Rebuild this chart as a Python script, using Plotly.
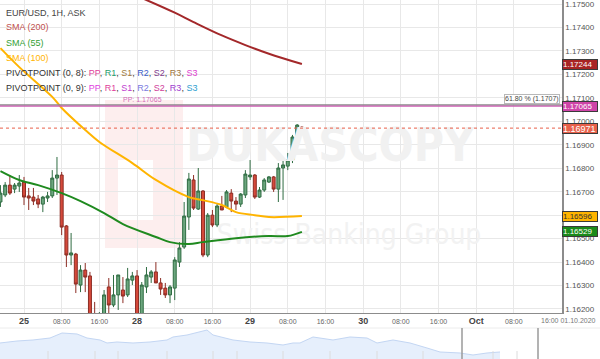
import plotly.graph_objects as go

# ---------------- data ----------------
# x = trading hours since 25 Sep 2020 00:00 (weekend removed)
hours = list(range(-5, 60))
opens = [1.16656, 1.16686, 1.16728, 1.16711, 1.16724, 1.16741, 1.16682, 1.16677, 1.16669, 1.16647,
         1.16673, 1.16682, 1.16758, 1.16771, 1.16554, 1.16430, 1.16434, 1.16302, 1.16366, 1.16341,
         1.16144, 1.16132, 1.16170, 1.16294, 1.16217, 1.16260, 1.16281, 1.16260, 1.16323, 1.16341,
         1.16153, 1.16294, 1.16336, 1.16358, 1.16311, 1.16289, 1.16260, 1.16289, 1.16400, 1.16464,
         1.16592, 1.16750, 1.16626, 1.16703, 1.16430, 1.16600, 1.16558, 1.16639, 1.16635, 1.16694,
         1.16660, 1.16647, 1.16686, 1.16763, 1.16771, 1.16677, 1.16707, 1.16741, 1.16763, 1.16711,
         1.16801, 1.16809, 1.16835, 1.16933, 1.16975]
highs = [1.16728, 1.16741, 1.16771, 1.16737, 1.16771, 1.16763, 1.16716, 1.16716, 1.16686, 1.16682,
         1.16699, 1.16792, 1.16848, 1.16784, 1.16558, 1.16524, 1.16439, 1.16387, 1.16396, 1.16358,
         1.16230, 1.16187, 1.16281, 1.16332, 1.16345, 1.16345, 1.16336, 1.16375, 1.16358, 1.16366,
         1.16315, 1.16379, 1.16366, 1.16400, 1.16332, 1.16311, 1.16302, 1.16421, 1.16485, 1.16656,
         1.16780, 1.16771, 1.16801, 1.16707, 1.16609, 1.16622, 1.16652, 1.16682, 1.16707, 1.16711,
         1.16677, 1.16694, 1.16792, 1.16835, 1.16775, 1.16720, 1.16758, 1.16767, 1.16767, 1.16822,
         1.16835, 1.16865, 1.16942, 1.16988, 1.16978]
lows = [1.16635, 1.16677, 1.16686, 1.16694, 1.16699, 1.16643, 1.16622, 1.16643, 1.16630, 1.16613,
        1.16656, 1.16673, 1.16686, 1.16515, 1.16379, 1.16387, 1.16268, 1.16272, 1.16272, 1.16097,
        1.16046, 1.16089, 1.16153, 1.16170, 1.16208, 1.16196, 1.16225, 1.16251, 1.16302, 1.16110,
        1.16132, 1.16268, 1.16311, 1.16311, 1.16260, 1.16247, 1.16225, 1.16238, 1.16379, 1.16456,
        1.16537, 1.16622, 1.16622, 1.16421, 1.16421, 1.16549, 1.16549, 1.16622, 1.16630, 1.16613,
        1.16622, 1.16635, 1.16673, 1.16750, 1.16669, 1.16673, 1.16699, 1.16737, 1.16699, 1.16656,
        1.16665, 1.16792, 1.16822, 1.16929, 1.16960]
closes = [1.16694, 1.16728, 1.16694, 1.16728, 1.16737, 1.16677, 1.16673, 1.16660, 1.16647, 1.16677,
          1.16682, 1.16758, 1.16771, 1.16549, 1.16430, 1.16439, 1.16306, 1.16366, 1.16336, 1.16132,
          1.16076, 1.16170, 1.16260, 1.16217, 1.16260, 1.16345, 1.16255, 1.16328, 1.16341, 1.16144,
          1.16302, 1.16345, 1.16358, 1.16311, 1.16285, 1.16260, 1.16294, 1.16409, 1.16460, 1.16596,
          1.16754, 1.16630, 1.16703, 1.16430, 1.16600, 1.16558, 1.16639, 1.16622, 1.16699, 1.16660,
          1.16647, 1.16690, 1.16775, 1.16771, 1.16677, 1.16707, 1.16750, 1.16763, 1.16711, 1.16801,
          1.16814, 1.16835, 1.16933, 1.16984, 1.16971]

sma200_x = [24, 26, 32, 36, 42, 47, 52, 59]
sma200 = [1.17534, 1.17517, 1.17463, 1.17423, 1.17366, 1.17325, 1.17288, 1.17244]
sma100_x = [-5, -1, 6, 8, 13, 16, 23, 28, 35, 38, 42, 45, 49, 52, 59]
sma100 = [1.17312, 1.17231, 1.17104, 1.17057, 1.16963, 1.16912, 1.16822, 1.16750, 1.16677,
          1.16664, 1.16643, 1.16613, 1.16600, 1.16592, 1.16596]
sma55_x = [-5, -1, 3, 8, 12, 17, 21, 28, 31, 35, 38, 45, 52, 56, 59]
sma55 = [1.16788, 1.16750, 1.16728, 1.16694, 1.16660, 1.16609, 1.16562, 1.16507, 1.16485,
         1.16477, 1.16485, 1.16502, 1.16511, 1.16511, 1.16529]

pivot_pp = 1.17065
fib_618 = 1.1707

x_tickvals = [0, 8, 16, 24, 32, 40, 48, 56, 64, 72, 80, 88, 96, 104]
x_ticklabels = ["25", "08:00", "16:00", "28", "08:00", "16:00", "29", "08:00", "16:00",
                "30", "08:00", "16:00", "Oct", "08:00"]
day_labels = {"25", "28", "29", "30", "Oct"}
y_tickvals = [1.162, 1.163, 1.164, 1.165, 1.166, 1.167, 1.168, 1.169, 1.170,
              1.171, 1.172, 1.173, 1.174, 1.175]

# navigator (overview) series
nav_x = [0, 3.4, 6.6, 10, 12.4, 15.4, 17.4, 20, 21.4, 23.4, 26.6, 30, 33.4, 34.6, 37.4, 40,
         41.4, 42.6, 46.6, 50, 53.4, 56.6, 58.6, 60, 62.6, 66.6, 70, 73.4, 75.4, 78.6, 82,
         85.4, 88, 92, 94.6, 97.4, 100]
nav_v = [1.17883, 1.18118, 1.18236, 1.18471, 1.19059, 1.18942, 1.18471, 1.18236, 1.17883,
         1.18001, 1.17883, 1.18001, 1.18236, 1.18589, 1.18824, 1.19177, 1.19412, 1.18824,
         1.18236, 1.18001, 1.17883, 1.17648, 1.17883, 1.17883, 1.18589, 1.18236, 1.18589,
         1.18471, 1.17883, 1.18236, 1.17883, 1.17295, 1.16825, 1.16707, 1.16472, 1.16707, 1.16825]
nav_ticks = [9.6, 19, 23.6, 33.4, 42.6, 47.4, 56.6, 66, 75.4, 84.6, 98.6, 103.4]
nav_handles = [92.4, 107.6]

# ---------------- figure ----------------
W, H = 600, 359
PLOT_R = 562
PLOT_B = 313
FONT = "Liberation Sans, Arial, sans-serif"

fig = go.Figure()

# watermark text (drawn first so it stays under the candles)
fig.add_trace(go.Scatter(
    x=[65, 69], y=[1.16880, 1.16505], mode="text",
    text=["<b>DUKASCOPY</b>", "Swiss Banking Group"],
    textfont=dict(family="Liberation Sans Narrow, DejaVu Sans Condensed, Arial Narrow, sans-serif",
                  size=[46, 28], color=["#f1f1f1", "#f2f2f2"]),
    hoverinfo="skip", showlegend=False))

fig.add_trace(go.Candlestick(
    x=hours, open=opens, high=highs, low=lows, close=closes,
    increasing=dict(line=dict(color="#2f6c42", width=1), fillcolor="#6ca67e"),
    decreasing=dict(line=dict(color="#8c2d24", width=1), fillcolor="#d5493b"),
    whiskerwidth=0, showlegend=False, hoverinfo="skip"))

fig.add_trace(go.Scatter(x=sma200_x, y=sma200, mode="lines",
                         line=dict(color="#a3282a", width=2, shape="spline"),
                         showlegend=False, hoverinfo="skip"))
fig.add_trace(go.Scatter(x=sma100_x, y=sma100, mode="lines",
                         line=dict(color="#ffb400", width=2, shape="spline"),
                         showlegend=False, hoverinfo="skip"))
fig.add_trace(go.Scatter(x=sma55_x, y=sma55, mode="lines",
                         line=dict(color="#1f8a1f", width=2, shape="spline"),
                         showlegend=False, hoverinfo="skip"))

# navigator
fig.add_trace(go.Scatter(x=nav_x, y=nav_v, mode="lines", fill="tozeroy",
                         fillcolor="#e6effc", line=dict(color="#c3d6f3", width=1),
                         xaxis="x2", yaxis="y2", showlegend=False, hoverinfo="skip"))

shapes = []
# watermark logo block
shapes.append(dict(type="rect", xref="x domain", yref="y domain",
                   x0=105 / PLOT_R, x1=183 / PLOT_R, y0=1 - 248 / PLOT_B, y1=1 - 100 / PLOT_B,
                   fillcolor="#fdeeee", line=dict(width=0), layer="below"))
shapes.append(dict(type="rect", xref="x domain", yref="y domain",
                   x0=118 / PLOT_R, x1=153 / PLOT_R, y0=1 - 220 / PLOT_B, y1=1 - 160 / PLOT_B,
                   fillcolor="#ffffff", line=dict(width=0), layer="below"))
# fib / pivot / last price lines
shapes.append(dict(type="line", xref="x domain", yref="y", x0=0, x1=1, y0=fib_618, y1=fib_618,
                   line=dict(color="#8a8a8a", width=1.5)))
shapes.append(dict(type="line", xref="x domain", yref="y", x0=0, x1=1, y0=pivot_pp, y1=pivot_pp,
                   line=dict(color="#cf5cb5", width=1.2)))
shapes.append(dict(type="line", xref="x domain", yref="y", x0=0, x1=1,
                   y0=closes[-1], y1=closes[-1],
                   line=dict(color="#e8604a", width=1, dash="dot")))
# navigator decorations
shapes.append(dict(type="line", xref="paper", yref="paper", x0=0, x1=1,
                   y0=1 - 328 / H, y1=1 - 328 / H, line=dict(color="#ececec", width=1)))
for t in nav_ticks:
    shapes.append(dict(type="line", xref="x2", yref="paper", x0=t, x1=t, y0=0, y1=8 / H,
                       line=dict(color="#dcdcdc", width=1)))
for t in nav_handles:
    shapes.append(dict(type="line", xref="x2", yref="paper", x0=t, x1=t, y0=0, y1=1 - 328 / H,
                       line=dict(color="#9a9a9a", width=1.5)))

annotations = []
# legend block
legend_rows = [
    ("EUR/USD, 1H, ASK", "#444444"),
    ("SMA (200)", "#c0504d"),
    ("SMA (55)", "#34a034"),
    ("SMA (100)", "#ffb400"),
    ("PIVOTPOINT (0, 8): <span style='color:#e0409a'>PP</span>, <span style='color:#1e9e6e'>R1</span>, "
     "<span style='color:#a07a3c'>S1</span>, <span style='color:#3a5cc8'>R2</span>, "
     "<span style='color:#7e3a8c'>S2</span>, <span style='color:#a0763c'>R3</span>, "
     "<span style='color:#e040d0'>S3</span>", "#333333"),
    ("PIVOTPOINT (0, 9): <span style='color:#e040e0'>PP</span>, <span style='color:#e0409a'>R1</span>, "
     "<span style='color:#c040d0'>S1</span>, <span style='color:#7a7ae0'>R2</span>, "
     "<span style='color:#d0409a'>S2</span>, <span style='color:#a040d0'>R3</span>, "
     "<span style='color:#30a0d0'>S3</span>", "#333333"),
]
row_y = [12.7, 27.5, 42.8, 58.2, 73.3, 88.3]
for (txt, col), py in zip(legend_rows, row_y):
    annotations.append(dict(text=txt, xref="paper", yref="paper", x=4 / W, y=1 - py / H,
                            xanchor="left", yanchor="middle", showarrow=False,
                            font=dict(family=FONT, size=9, color=col)))

# price tags on the right axis
tags = [
    (sma200[-1], "#a82424", "#ffffff", 8),
    (pivot_pp, "#cf44a8", "#ffffff", 8),
    (closes[-1], "#e8604a", "#ffffff", 9),
    (sma100[-1], "#ffb400", "#333333", 8),
    (sma55[-1], "#1a8a1a", "#ffffff", 8),
]
for v, bg, fc, fs in tags:
    annotations.append(dict(text=f"{v:.5f}", xref="paper", yref="y", x=PLOT_R / W, y=v,
                            xanchor="left", yanchor="middle", showarrow=False, align="left",
                            bgcolor=bg, bordercolor="#3a3a3a", borderwidth=1, borderpad=0,
                            width=34, height=9,
                            font=dict(family=FONT, size=fs, color=fc)))

annotations.append(dict(text=f"61.80 % ({fib_618:.4f})", xref="x domain", yref="y",
                        x=560 / PLOT_R, y=fib_618, xanchor="right", yanchor="bottom",
                        showarrow=False, bgcolor="#ffffff", bordercolor="#b8b8b8",
                        borderwidth=1, borderpad=0, yshift=1,
                        font=dict(family=FONT, size=7, color="#444444")))
annotations.append(dict(text=f"PP: {pivot_pp:.5f}", xref="x domain", yref="y",
                        x=142 / PLOT_R, y=pivot_pp, xanchor="center", yanchor="bottom",
                        showarrow=False, yshift=1,
                        font=dict(family=FONT, size=7, color="#d36bb6")))
annotations.append(dict(text="16:00 01.10.2020", xref="paper", yref="paper",
                        x=598 / W, y=1 - 320 / H, xanchor="right", yanchor="middle",
                        showarrow=False, font=dict(family=FONT, size=7, color="#777777")))

ticktext = []
for t in x_ticklabels:
    if t in day_labels:
        ticktext.append(f"<span style='font-size:9px;color:#444'><b>{t}</b></span>")
    else:
        ticktext.append(t)

# axis ranges from pixel geometry of the panel
x0_h = -5.096
x1_h = 114.22
y_top = 1.175171
y_bot = 1.161829

fig.update_layout(
    width=W, height=H,
    margin=dict(l=0, r=0, t=0, b=0),
    paper_bgcolor="#ffffff", plot_bgcolor="#ffffff",
    font=dict(family=FONT),
    boxgap=0.1,
    showlegend=False,
    shapes=shapes, annotations=annotations,
    xaxis=dict(domain=[0, PLOT_R / W], range=[x0_h, x1_h], anchor="y",
               tickmode="array", tickvals=x_tickvals, ticktext=ticktext,
               tickfont=dict(size=7, color="#666666"), ticks="", ticklabelstandoff=2,
               showgrid=True, gridcolor="#e8e8e8", gridwidth=1,
               showline=True, linecolor="#8c8c8c", linewidth=1,
               zeroline=False, rangeslider=dict(visible=False), fixedrange=True),
    yaxis=dict(domain=[1 - PLOT_B / H, 1], range=[y_bot, y_top], side="right", anchor="x",
               tickmode="array", tickvals=y_tickvals, tickformat=".5f",
               tickfont=dict(size=8, color="#555555"), ticks="", ticklabeloverflow="allow",
               showgrid=True, gridcolor="#e8e8e8", gridwidth=1,
               showline=True, linecolor="#8c8c8c", linewidth=1.5,
               zeroline=False, fixedrange=True),
    xaxis2=dict(domain=[0, 1], range=[0, 120], anchor="y2", visible=False, fixedrange=True),
    yaxis2=dict(domain=[0, 34 / H], range=[1.16, 1.20], anchor="x2", visible=False,
                fixedrange=True),
)

fig.write_html("out.html", config={"displayModeBar": False},
               post_script="document.body.style.margin='0';document.body.style.padding='0';")
